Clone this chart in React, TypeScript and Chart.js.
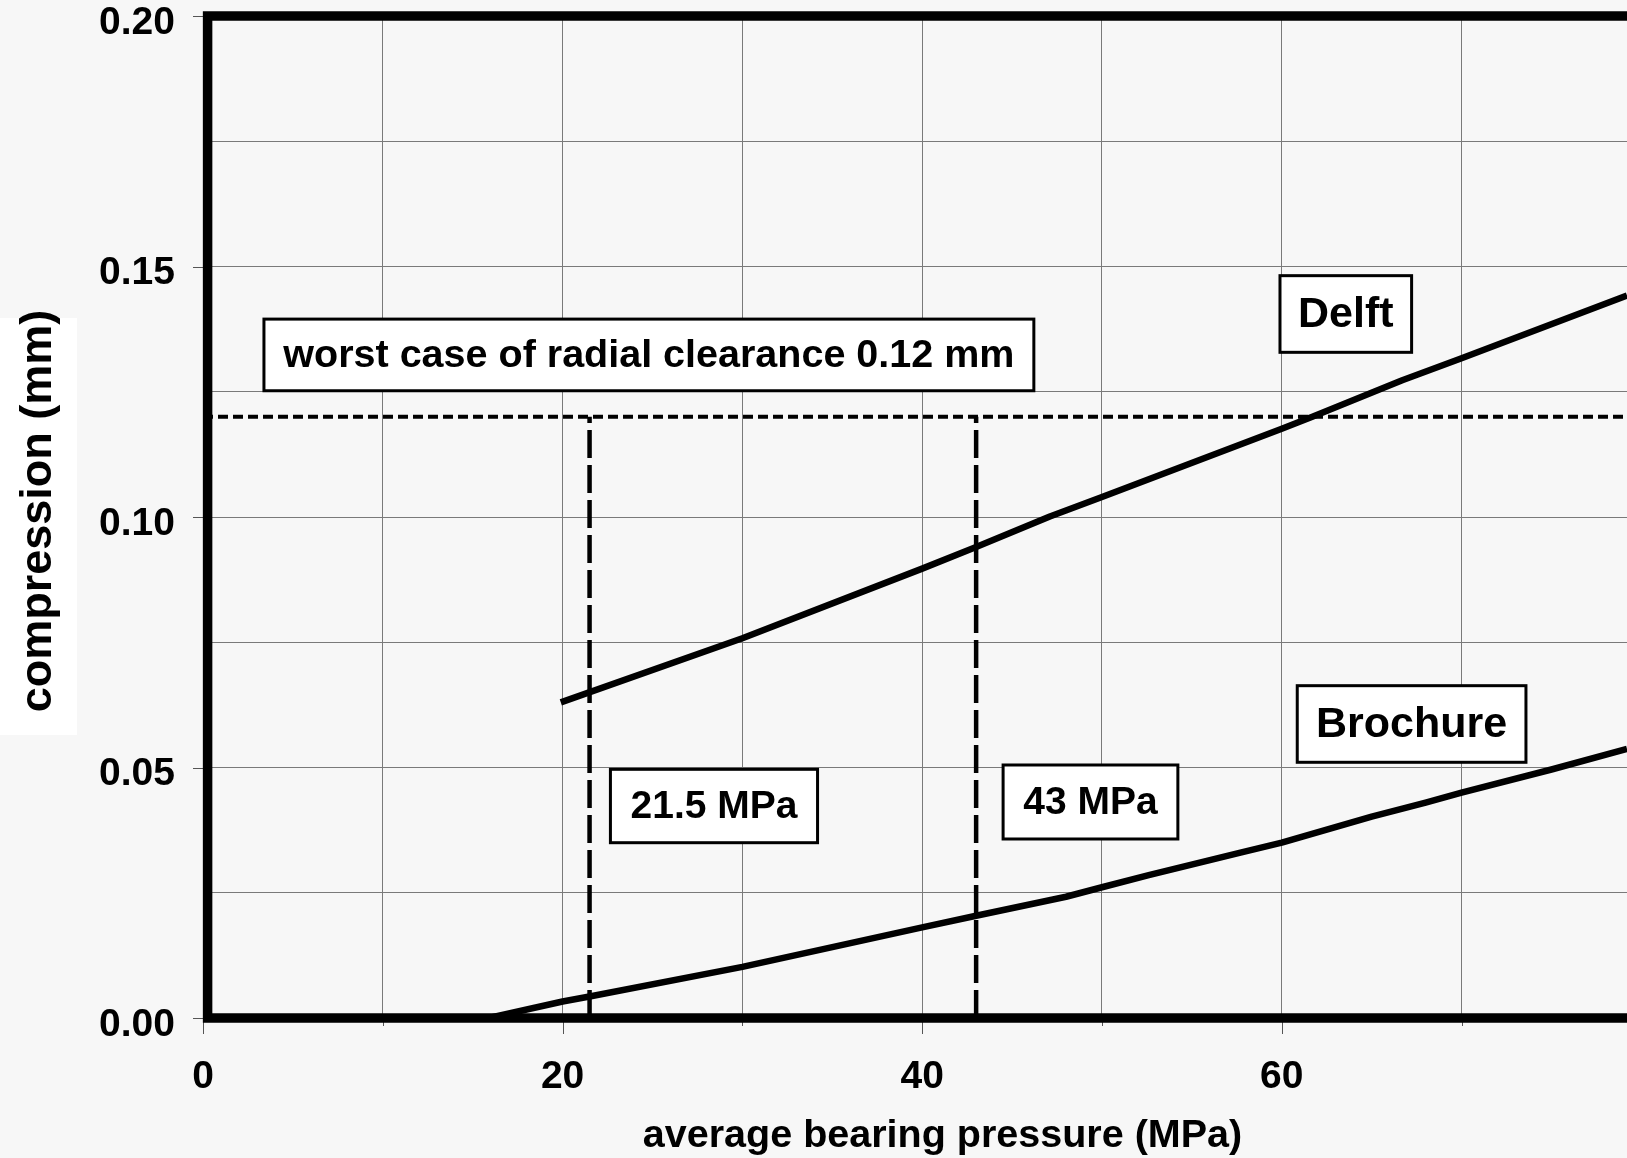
import React, { useEffect, useRef } from 'react';
import { Chart, registerables } from 'chart.js';

Chart.register(...registerables);

// ---- data ----
const delftPressure = [19.9, 30, 40, 43, 47.1, 50, 60, 61.7, 66.7, 70, 79.2];
const delftCompression = [0.063, 0.0758, 0.0897, 0.094, 0.1001, 0.104, 0.1176, 0.12, 0.1273, 0.1317, 0.1442];

const brochurePressure = [15.9, 20, 21.5, 30, 40, 43, 48, 50, 52.6, 57.7, 60, 65, 68, 70, 75, 79.2];
const brochureCompression = [0, 0.0033, 0.0043, 0.0102, 0.0181, 0.0204, 0.0242, 0.0261, 0.0285, 0.033, 0.035, 0.0402, 0.043, 0.045, 0.0496, 0.0537];

const clearanceLimit = 0.12;
const markedPressures = [21.5, 43];

const xTickLabels = ['0', '20', '40', '60'];
const yTickLabels = ['0.00', '0.05', '0.10', '0.15', '0.20'];

const xTitle = 'average bearing pressure (MPa)';
const yTitle = 'compression (mm)';

// annotation boxes: data-space rectangles
const boxes = [
  { text: 'worst case of radial clearance 0.12 mm', x1: 3.39, x2: 46.21, y1: 0.1395, y2: 0.1252, size: 39.5 },
  { text: 'Delft', x1: 59.9, x2: 67.22, y1: 0.14817, y2: 0.13287, size: 43 },
  { text: 'Brochure', x1: 60.86, x2: 73.58, y1: 0.06633, y2: 0.05104, size: 43 },
  { text: '21.5 MPa', x1: 22.66, x2: 34.18, y1: 0.04964, y2: 0.03499, size: 39 },
  { text: '43 MPa', x1: 44.5, x2: 54.22, y1: 0.0505, y2: 0.03573, size: 39 },
];

const FONT = '"Liberation Sans", Arial, Helvetica, sans-serif';
const W = 1627;
const H = 1158;

const toPoints = (xs: number[], ys: number[]) => xs.map((x, i) => ({ x, y: ys[i] }));

const decorPlugin = {
  id: 'decor',
  beforeDraw(chart: any) {
    const ctx = chart.ctx;
    ctx.save();
    ctx.fillStyle = '#f7f7f7';
    ctx.fillRect(0, 0, chart.width, chart.height);
    // white patch behind y title
    ctx.fillStyle = '#ffffff';
    ctx.fillRect(0, 318, 77, 417);
    ctx.restore();
  },
  afterDatasetsDraw(chart: any) {
    const ctx = chart.ctx;
    const xs = chart.scales.x;
    const ys = chart.scales.y;
    ctx.save();
    for (const b of boxes) {
      const l = xs.getPixelForValue(b.x1);
      const r = xs.getPixelForValue(b.x2);
      const t = ys.getPixelForValue(b.y1);
      const bo = ys.getPixelForValue(b.y2);
      ctx.fillStyle = '#ffffff';
      ctx.fillRect(l, t, r - l, bo - t);
      ctx.strokeStyle = '#000';
      ctx.lineWidth = 3;
      ctx.strokeRect(l, t, r - l, bo - t);
      ctx.fillStyle = '#000';
      ctx.font = `bold ${b.size}px ${FONT}`;
      ctx.textAlign = 'center';
      ctx.textBaseline = 'middle';
      ctx.fillText(b.text, (l + r) / 2, (t + bo) / 2 + 1);
    }
    ctx.restore();
  },
  afterDraw(chart: any) {
    const ctx = chart.ctx;
    const xs = chart.scales.x;
    const ys = chart.scales.y;
    const a = chart.chartArea;
    ctx.save();
    // tick marks
    ctx.strokeStyle = '#555';
    ctx.lineWidth = 1;
    xs.ticks.forEach((t: any) => {
      const px = Math.round(xs.getPixelForValue(t.value)) + 0.5;
      const major = Math.round(t.value) % 20 === 0;
      ctx.beginPath();
      ctx.moveTo(px, a.bottom);
      ctx.lineTo(px, a.bottom + (major ? 16 : 8));
      ctx.stroke();
    });
    ys.ticks.forEach((t: any) => {
      const py = Math.round(ys.getPixelForValue(t.value)) + 0.5;
      const major = Math.round(t.value * 1000) % 50 === 0;
      if (!major) return;
      ctx.beginPath();
      ctx.moveTo(a.left - 10, py);
      ctx.lineTo(a.left, py);
      ctx.stroke();
    });
    // thick frame lines
    ctx.strokeStyle = '#000';
    ctx.lineWidth = 9.5;
    ctx.lineCap = 'butt';
    const y0 = ys.getPixelForValue(0);
    const yTop = ys.getPixelForValue(0.2);
    ctx.beginPath();
    ctx.moveTo(a.left, yTop);
    ctx.lineTo(a.right + 10, yTop);
    ctx.moveTo(a.left, y0);
    ctx.lineTo(a.right + 10, y0);
    ctx.moveTo(a.left + 4.6, yTop - 4.75);
    ctx.lineTo(a.left + 4.6, y0 + 4.75);
    ctx.stroke();
    // axis titles
    ctx.fillStyle = '#000';
    ctx.font = `bold 39.5px ${FONT}`;
    ctx.textAlign = 'center';
    ctx.textBaseline = 'middle';
    ctx.fillText(xTitle, 942.5, 1136);
    ctx.translate(38.5, 511);
    ctx.rotate(-Math.PI / 2);
    ctx.font = `bold 45px ${FONT}`;
    ctx.fillText(yTitle, 0, 0);
    ctx.restore();
  },
};

export default function App() {
  const ref = useRef<HTMLCanvasElement | null>(null);
  useEffect(() => {
    if (!ref.current) return;
    const chart = new Chart(ref.current, {
      type: 'line',
      data: {
        datasets: [
          {
            label: 'clearance',
            data: [{ x: 0, y: clearanceLimit }, { x: 79.2, y: clearanceLimit }],
            borderColor: '#000',
            borderWidth: 4,
            borderDash: [10, 5],
            pointRadius: 0,
            tension: 0,
          },
          ...markedPressures.map((p) => ({
            label: `${p} MPa`,
            data: [{ x: p, y: 0 }, { x: p, y: clearanceLimit }],
            borderColor: '#000',
            borderWidth: 4.5,
            borderDash: [28, 7],
            pointRadius: 0,
            tension: 0,
          })),
          {
            label: 'Delft',
            data: toPoints(delftPressure, delftCompression),
            borderColor: '#000',
            borderWidth: 6.5,
            pointRadius: 0,
            tension: 0,
            borderJoinStyle: 'round',
          },
          {
            label: 'Brochure',
            data: toPoints(brochurePressure, brochureCompression),
            borderColor: '#000',
            borderWidth: 6.5,
            pointRadius: 0,
            tension: 0,
            borderJoinStyle: 'round',
          },
        ],
      },
      options: {
        responsive: false,
        animation: false,
        devicePixelRatio: 1,
        layout: { padding: { top: 16, right: 0, bottom: 0, left: 0 } },
        plugins: { legend: { display: false }, tooltip: { enabled: false } },
        scales: {
          x: {
            type: 'linear',
            min: 0,
            max: 79.2,
            afterFit: (s: any) => {
              s.height = 140;
              s.paddingLeft = 0;
              s.paddingRight = 0;
            },
            border: { display: false },
            grid: { color: '#7a7a7a', lineWidth: 1, drawTicks: false },
            ticks: {
              stepSize: 10,
              includeBounds: false,
              autoSkip: false,
              maxRotation: 0,
              padding: 36,
              color: '#000',
              font: { family: FONT, size: 39, weight: 'bold' },
              callback: (v: any) => {
                const s = String(Math.round(Number(v)));
                return xTickLabels.includes(s) ? s : '';
              },
            },
          },
          y: {
            type: 'linear',
            min: 0,
            max: 0.2,
            afterFit: (s: any) => {
              s.width = 203;
              s.paddingTop = 0;
              s.paddingBottom = 0;
            },
            border: { display: false },
            grid: { color: '#7a7a7a', lineWidth: 1, drawTicks: false },
            ticks: {
              stepSize: 0.025,
              includeBounds: false,
              autoSkip: false,
              padding: 28,
              labelOffset: 7,
              color: '#000',
              font: { family: FONT, size: 39, weight: 'bold' },
              callback: (v: any) => {
                const s = Number(v).toFixed(2);
                return yTickLabels.includes(s) && Math.round(Number(v) * 1000) % 50 === 0 ? s : '';
              },
            },
          },
        },
      },
      plugins: [decorPlugin],
    } as any);
    return () => chart.destroy();
  }, []);
  return (
    <div style={{ position: 'absolute', left: 0, top: 0, width: W, height: H, overflow: 'hidden' }}>
      <canvas ref={ref} width={W} height={H} style={{ display: 'block', width: W, height: H }} />
    </div>
  );
}
